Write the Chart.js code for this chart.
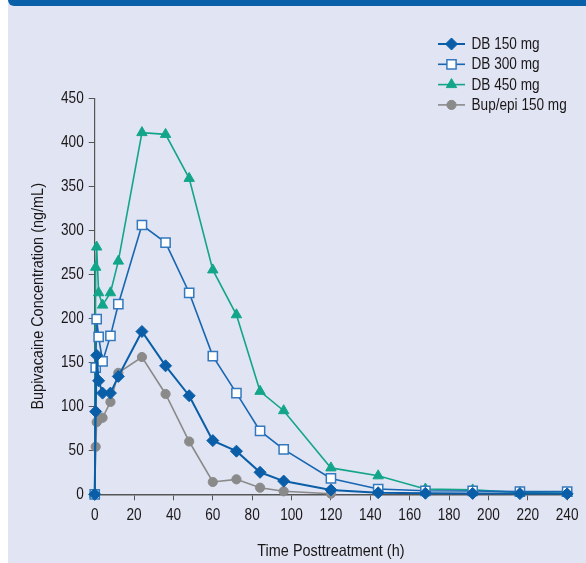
<!DOCTYPE html>
<html>
<head>
<meta charset="utf-8">
<script src="https://cdn.jsdelivr.net/npm/chart.js@4.4.1/dist/chart.umd.min.js"></script>
<style>
  html, body { margin: 0; padding: 0; background: #ffffff; }
  #wrap { position: relative; width: 586px; height: 563px; overflow: hidden; }
  #panel { position: absolute; left: 8px; top: 0; right: 0; bottom: 0; background: #e1e4f2; }
  #band { position: absolute; left: 8px; top: 0; right: 0; height: 6px; background: #0a60a8; border-bottom-left-radius: 7px; }
  canvas { position: absolute; left: 0; top: 0; }
</style>
</head>
<body>
<div id="wrap">
  <div id="panel"></div>
  <div id="band"></div>
  <canvas id="c" width="586" height="563"></canvas>
</div>
<script>
// Sampling times (hours after treatment)
const hours = [0, 0.5, 1, 2, 4, 8, 12, 24, 36, 48, 60, 72, 84, 96, 120, 144, 168, 192, 216, 240];

// Mean plasma bupivacaine concentrations (ng/mL)
const db150 = [0, 94, 158, 129, 115, 115, 134, 185, 146, 112, 61, 49, 25, 15, 5, 1.8, 1.2, 1, 0.8, 0.5];
const db300 = [0, 144, 199, 179, 151, 180, 216, 306, 286, 229, 157, 115, 72, 51, 18, 6, 4, 3.8, 3, 3];
const db450 = [0, 258, 281, 229, 215, 229, 265, 411, 409, 359, 255, 204, 117, 95, 30, 21, 6, 5, 2, 1];
const bupEpi150 = [0, 54, 82, 85, 87, 105, 138, 156, 114, 60, 14, 17, 7.5, 3.4, 0.7];

const seriesNames = ['DB 150 mg', 'DB 300 mg', 'DB 450 mg', 'Bup/epi 150 mg'];

const xTicks = { min: 0, max: 240, step: 20 };
const yTicks = { min: 0, max: 450, step: 50 };

const FONT = "'Liberation Sans', Arial, sans-serif";
const NARROW = 0.85;   // horizontal squeeze giving a condensed face
const TEXT = '#1a1718';
const AXIS = '#555555';

const canvas = document.getElementById('c');
const ctx2d = canvas.getContext('2d');
// All text on this canvas is set in a condensed width
const plainFillText = ctx2d.fillText.bind(ctx2d);
ctx2d.fillText = function (text, x, y, maxWidth) {
  this.save();
  this.translate(x, y);
  this.scale(NARROW, 1);
  if (maxWidth !== undefined) plainFillText(text, 0, 0, maxWidth / NARROW);
  else plainFillText(text, 0, 0);
  this.restore();
};

const pairs = (vals) => vals.map((v, i) => ({ x: hours[i], y: v }));

function series(label, vals, line, fill, border, style, radius, width) {
  return {
    label,
    data: pairs(vals),
    borderColor: line,
    borderWidth: width,
    pointStyle: style,
    pointRadius: radius,
    pointHoverRadius: radius,
    pointBackgroundColor: fill,
    pointBorderColor: border,
    pointBorderWidth: style === 'rect' ? 1.5 : 1,
    tension: 0,
    clip: false
  };
}

// Legend drawn as line + marker + label, stacked at the upper right
const lineLegend = {
  id: 'lineLegend',
  afterDraw(chart) {
    const ctx = chart.ctx;
    chart.data.datasets.forEach((ds, i) => {
      const y = 44 + i * 20.3;
      ctx.save();
      ctx.strokeStyle = ds.borderColor;
      ctx.lineWidth = ds.borderWidth;
      ctx.beginPath();
      ctx.moveTo(438, y);
      ctx.lineTo(465, y);
      ctx.stroke();
      ctx.fillStyle = ds.pointBackgroundColor;
      ctx.strokeStyle = ds.pointBorderColor;
      ctx.lineWidth = ds.pointBorderWidth;
      Chart.helpers.drawPoint(ctx, {
        pointStyle: ds.pointStyle, radius: ds.pointRadius, rotation: 0, borderWidth: ds.pointBorderWidth
      }, 451.5, y);
      ctx.fillStyle = TEXT;
      ctx.font = '16px ' + FONT;
      ctx.textBaseline = 'middle';
      ctx.textAlign = 'left';
      ctx.fillText(ds.label, 471.5, y + 0.5);
      ctx.restore();
    });
  }
};

new Chart(canvas, {
  type: 'line',
  data: {
    datasets: [
      series(seriesNames[0], db150, '#0a5ea8', '#0a5ea8', '#0a5ea8', 'rectRot', 6, 2),
      series(seriesNames[1], db300, '#1766b2', '#ffffff', '#3479bd', 'rect', 6.5, 1.6),
      series(seriesNames[2], db450, '#12a58a', '#12a58a', '#12a58a', 'triangle', 6, 1.6),
      series(seriesNames[3], bupEpi150, '#8a8a8a', '#8a8a8a', '#8a8a8a', 'circle', 4.6, 1.6)
    ]
  },
  options: {
    responsive: false,
    animation: false,
    events: [],
    layout: { padding: { top: 98.3, right: 11.3, left: 0, bottom: 0 } },
    plugins: { legend: { display: false }, tooltip: { enabled: false } },
    scales: {
      x: {
        type: 'linear',
        min: xTicks.min, max: xTicks.max,
        afterFit: (s) => { s.height = 68.7; },
        ticks: { stepSize: xTicks.step, color: TEXT, font: { family: FONT, size: 16 }, padding: 5.5, maxRotation: 0, autoSkip: false },
        grid: { drawOnChartArea: false, drawTicks: true, tickLength: 6, color: AXIS, lineWidth: 1 },
        border: { color: AXIS, width: 1.5 },
        title: { display: true, text: 'Time Posttreatment (h)', color: TEXT, font: { family: FONT, size: 17 }, padding: { top: 0, bottom: 1.5 } }
      },
      y: {
        min: yTicks.min, max: yTicks.max,
        afterFit: (s) => { s.width = 94.7; },
        ticks: { stepSize: yTicks.step, color: TEXT, font: { family: FONT, size: 16 }, padding: 5 },
        grid: { drawOnChartArea: false, drawTicks: true, tickLength: 6, color: AXIS, lineWidth: 1 },
        border: { color: AXIS, width: 1.2 },
        title: { display: true, text: 'Bupivacaine Concentration (ng/mL)', color: TEXT, font: { family: FONT, size: 17 }, padding: { top: 28.5, bottom: 0 } }
      }
    }
  },
  plugins: [lineLegend]
});
</script>
</body>
</html>
